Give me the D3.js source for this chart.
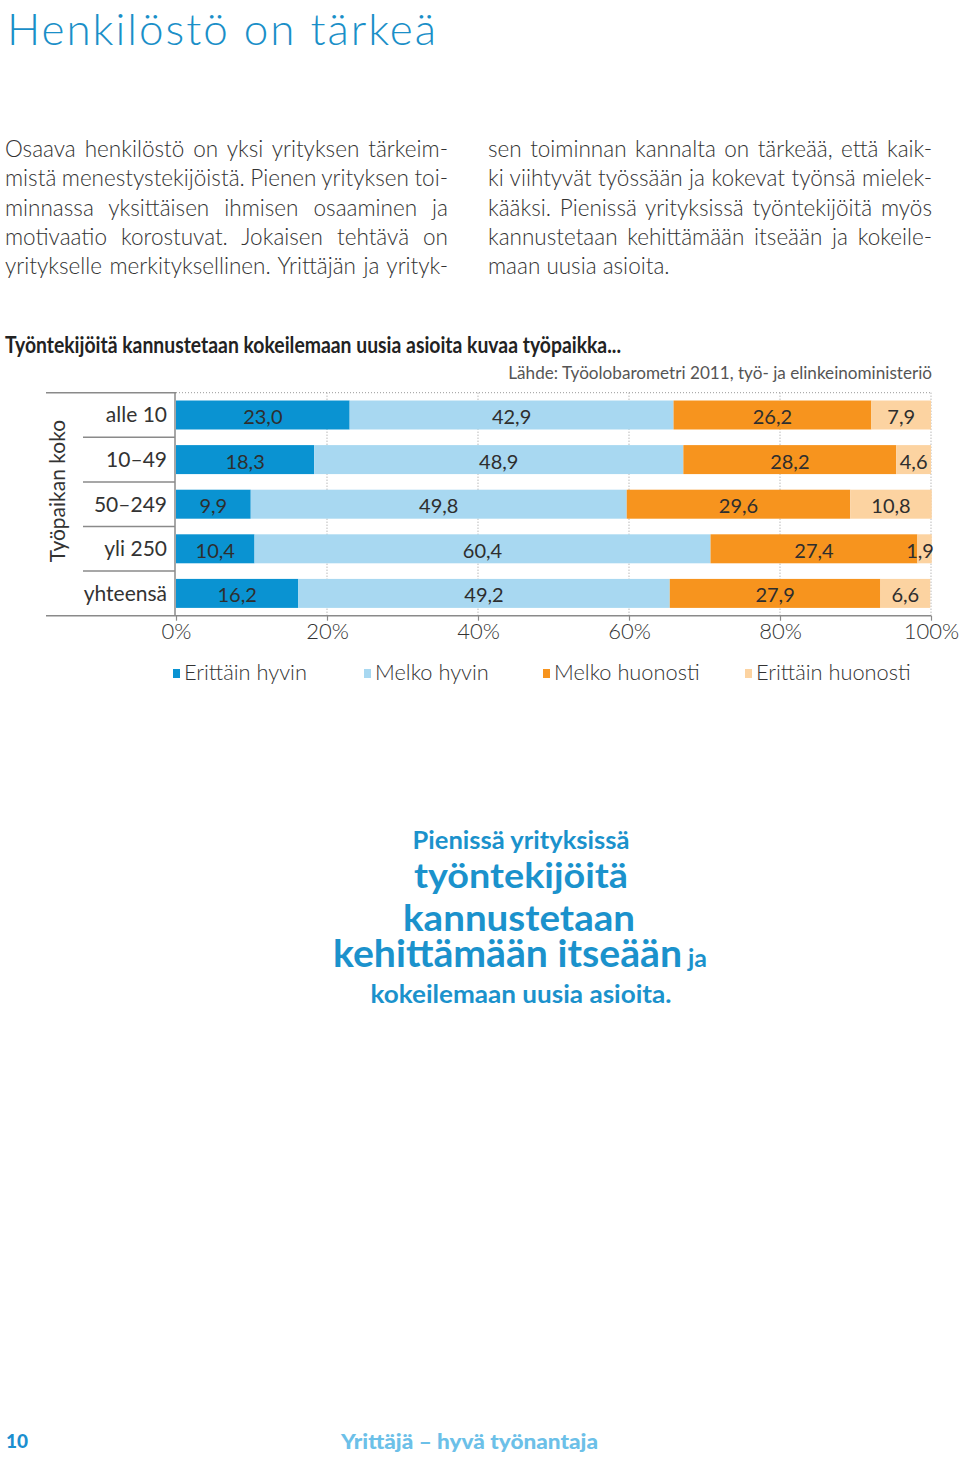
<!DOCTYPE html>
<html>
<head>
<meta charset="utf-8">
<script src="https://cdn.jsdelivr.net/npm/d3@7"></script>
<style>
  html, body { margin: 0; padding: 0; background: #fff; }
  svg { display: block; }
  text { font-family: Lato, "Open Sans", "DejaVu Sans", sans-serif; }
</style>
</head>
<body>
<svg id="chart" width="960" height="1459"></svg>
<script>
// ---------- DATA ----------
const categories = ["alle 10", "10–49", "50–249", "yli 250", "yhteensä"];
const seriesNames = ["Erittäin hyvin", "Melko hyvin", "Melko huonosti", "Erittäin huonosti"];
const erittainHyvin   = [23.0, 18.3, 9.9, 10.4, 16.2];
const melkoHyvin      = [42.9, 48.9, 49.8, 60.4, 49.2];
const melkoHuonosti   = [26.2, 28.2, 29.6, 27.4, 27.9];
const erittainHuonosti= [7.9, 4.6, 10.8, 1.9, 6.6];
const tickValues = [0, 20, 40, 60, 80, 100];
const tickLabels = ["0%", "20%", "40%", "60%", "80%", "100%"];

const heading = "Henkilöstö on tärkeä";
const bodyLeft = [
  "Osaava henkilöstö on yksi yrityksen tärkeim-",
  "mistä menestystekijöistä. Pienen yrityksen toi-",
  "minnassa yksittäisen ihmisen osaaminen ja",
  "motivaatio korostuvat. Jokaisen tehtävä on",
  "yritykselle merkityksellinen. Yrittäjän ja yrityk-"
];
const bodyRight = [
  "sen toiminnan kannalta on tärkeää, että kaik-",
  "ki viihtyvät työssään ja kokevat työnsä mielek-",
  "kääksi. Pienissä yrityksissä työntekijöitä myös",
  "kannustetaan kehittämään itseään ja kokeile-",
  "maan uusia asioita."
];
const chartTitle = "Työntekijöitä kannustetaan kokeilemaan uusia asioita kuvaa työpaikka...";
const sourceText = "Lähde: Työolobarometri 2011, työ- ja elinkeinoministeriö";
const yTitle = "Työpaikan koko";
const calloutLines = ["Pienissä yrityksissä", "työntekijöitä", "kannustetaan", "kehittämään itseään", "kokeilemaan uusia asioita."];
const calloutSmall = "ja";
const pageNumber = "10";
const footerTitle = "Yrittäjä – hyvä työnantaja";

// ---------- STYLE / LAYOUT ----------
const colors = ["#0a93d2", "#a8d8f1", "#f7941e", "#fcd3a1"];
const textDark = "#2e2e2e";
const accent = "#1b92cc";
const legendX = [173, 364, 543, 745];

const svg = d3.select("#chart");

function fitWidth(sel, target) {
  const fs = +sel.attr("font-size");
  const w = sel.node().getComputedTextLength();
  sel.attr("font-size", fs * target / w);
}

// Heading
svg.append("text").attr("x", 7).attr("y", 44.5)
  .attr("font-size", 44).attr("font-weight", 300).attr("fill", "#1a8fc8")
  .attr("textLength", 429).attr("lengthAdjust", "spacing")
  .text(heading);

// Justified body text
function bodyColumn(lines, x, width, justifyLast) {
  lines.forEach((line, i) => {
    const t = svg.append("text").attr("x", x).attr("y", 157 + i * 29.3)
      .attr("font-size", 22.5).attr("font-weight", 300).attr("fill", "#333")
      .text(line);
    if (justifyLast || i < lines.length - 1) {
      const w = t.node().getComputedTextLength();
      const gaps = line.split(" ").length - 1;
      if (gaps > 0) t.attr("word-spacing", (width - w) / gaps);
    }
  });
}
bodyColumn(bodyLeft, 5, 443, true);
bodyColumn(bodyRight, 488, 444, false);

// Chart title and source
svg.append("text").attr("x", 5).attr("y", 353)
  .attr("font-size", 22).attr("font-weight", 700).attr("fill", "#222")
  .attr("textLength", 616).attr("lengthAdjust", "spacingAndGlyphs")
  .text(chartTitle);
const src = svg.append("text").attr("x", 932).attr("y", 379).attr("text-anchor", "end")
  .attr("font-size", 19).attr("fill", "#555")
  .text(sourceText);
fitWidth(src, 424);

// Scales
const x = d3.scaleLinear().domain([0, 100]).range([176, 931]);
const y = d3.scaleBand().domain(categories).range([392.7, 615.7])
  .paddingInner(0.35).paddingOuter(0.175);

const table = categories.map((c, i) => ({
  cat: c,
  [seriesNames[0]]: erittainHyvin[i],
  [seriesNames[1]]: melkoHyvin[i],
  [seriesNames[2]]: melkoHuonosti[i],
  [seriesNames[3]]: erittainHuonosti[i]
}));
const stacked = d3.stack().keys(seriesNames)(table);

const g = svg.append("g");

// gridlines (dotted)
g.selectAll(".grid").data(tickValues.slice(1)).join("line")
  .attr("x1", d => x(d)).attr("x2", d => x(d))
  .attr("y1", 392.7).attr("y2", 615.7)
  .attr("stroke", "#999").attr("stroke-width", 1).attr("stroke-dasharray", "1,2");
g.append("line").attr("x1", x(0)).attr("x2", x(100)).attr("y1", 392.7).attr("y2", 392.7)
  .attr("stroke", "#999").attr("stroke-width", 1).attr("stroke-dasharray", "1,2");

// bars
stacked.forEach((s, si) => {
  g.selectAll(".b" + si).data(s).join("rect")
    .attr("x", d => x(d[0]))
    .attr("width", d => x(d[1]) - x(d[0]))
    .attr("y", d => y(d.data.cat))
    .attr("height", y.bandwidth())
    .attr("fill", colors[si]);
});

// value labels
stacked.forEach((s, si) => {
  g.selectAll(".v" + si).data(s).join("text")
    .attr("x", d => Math.min(x((d[0] + d[1]) / 2), 920))
    .attr("y", d => y(d.data.cat) + y.bandwidth() / 2 + 1)
    .attr("text-anchor", "middle").attr("dominant-baseline", "central")
    .attr("font-size", 20).attr("fill", textDark)
    .text(d => d3.format(".1f")(d[1] - d[0]).replace(".", ","));
});

// axes lines
const axisColor = "#8a8a8a";
g.append("line").attr("x1", 46).attr("x2", x(0)).attr("y1", 392.7).attr("y2", 392.7)
  .attr("stroke", axisColor).attr("stroke-width", 1.5);
g.append("line").attr("x1", 46).attr("x2", x(100)).attr("y1", 615.7).attr("y2", 615.7)
  .attr("stroke", axisColor).attr("stroke-width", 1.5);
g.append("line").attr("x1", 175).attr("x2", 175).attr("y1", 392.7).attr("y2", 615.7)
  .attr("stroke", axisColor).attr("stroke-width", 1.5);
const seps = categories.slice(1).map(c => y(c) - y.step() * y.paddingInner() / 2);
g.selectAll(".sep").data(seps).join("line")
  .attr("x1", 83).attr("x2", 175).attr("y1", d => d).attr("y2", d => d)
  .attr("stroke", axisColor).attr("stroke-width", 1.5);

// x axis ticks + labels
const xAxis = d3.axisBottom(x).tickValues(tickValues)
  .tickFormat((d, i) => tickLabels[i]).tickSize(5).tickPadding(3);
const ax = svg.append("g").attr("transform", "translate(0,615.7)").call(xAxis);
ax.select(".domain").remove();
ax.selectAll(".tick line").attr("stroke", axisColor).attr("stroke-width", 1.2);
ax.selectAll(".tick text").attr("font-size", 22).attr("fill", "#333")
  .attr("font-family", "Lato, 'Open Sans', sans-serif").attr("font-weight", 300)
  .attr("dy", "0.71em");

// category labels
const yAxis = d3.axisLeft(y).tickSize(0).tickPadding(8);
const ay = svg.append("g").attr("transform", "translate(175,0)").call(yAxis);
ay.select(".domain").remove();
ay.selectAll(".tick text").attr("font-size", 21).attr("fill", "#333")
  .attr("font-family", "Lato, 'Open Sans', sans-serif").attr("dy", "0.35em");

// y title
svg.append("text").attr("transform", "translate(65,491) rotate(-90)")
  .attr("text-anchor", "middle").attr("font-size", 21).attr("fill", "#333")
  .text(yTitle);

// legend
const lg = svg.append("g");
seriesNames.forEach((n, i) => {
  lg.append("rect").attr("x", legendX[i]).attr("y", 669).attr("width", 7).attr("height", 9)
    .attr("fill", colors[i]);
  lg.append("text").attr("x", legendX[i] + 11).attr("y", 680)
    .attr("font-size", 21.8).attr("fill", "#333").attr("font-weight", 300)
    .text(n);
});

// callout
const calloutStyle = [
  { y: 849, s: 25, w: 217, cx: 521 },
  { y: 888, s: 34, w: 214, cx: 521 },
  { y: 931, s: 37, w: 232, cx: 519 },
  { y: 967, s: 38, w: 349, cx: 507.5 },
  { y: 1003, s: 25, w: 301, cx: 521 }
];
calloutLines.forEach((t, i) => {
  const c = calloutStyle[i];
  svg.append("text").attr("x", c.cx).attr("y", c.y).attr("text-anchor", "middle")
    .attr("font-size", c.s).attr("font-weight", 700).attr("fill", accent)
    .attr("textLength", c.w).attr("lengthAdjust", "spacingAndGlyphs")
    .text(t);
});
svg.append("text").attr("x", 688).attr("y", 967)
  .attr("font-size", 24).attr("font-weight", 700).attr("fill", accent)
  .attr("textLength", 19).attr("lengthAdjust", "spacingAndGlyphs")
  .text(calloutSmall);

// footer
svg.append("text").attr("x", 6).attr("y", 1448)
  .attr("font-size", 19).attr("font-weight", 900).attr("fill", "#1b8fcf")
  .text(pageNumber);
svg.append("text").attr("x", 341).attr("y", 1449)
  .attr("font-size", 21).attr("font-weight", 900).attr("fill", "#6cc0e8")
  .attr("textLength", 257).attr("lengthAdjust", "spacingAndGlyphs")
  .text(footerTitle);
</script>
</body>
</html>
